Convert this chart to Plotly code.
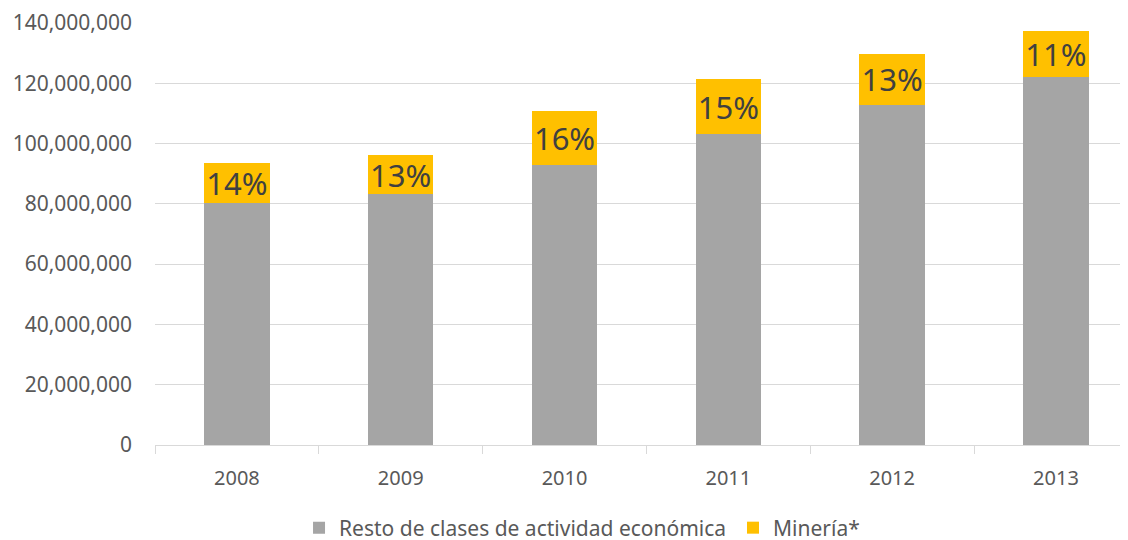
import plotly.graph_objects as go

years = ["2008", "2009", "2010", "2011", "2012", "2013"]
resto = [80.2e6, 83.3e6, 92.8e6, 103.1e6, 112.9e6, 122.1e6]
mineria = [13.5e6, 12.8e6, 18.0e6, 18.2e6, 16.8e6, 15.3e6]
mineria_pct = ["14%", "13%", "16%", "15%", "13%", "11%"]
y_ticks = [0, 20e6, 40e6, 60e6, 80e6, 100e6, 120e6, 140e6]
y_tick_labels = ["0", "20,000,000", "40,000,000", "60,000,000", "80,000,000",
                 "100,000,000", "120,000,000", "140,000,000"]

FONT = "Noto Sans"

fig = go.Figure()
fig.add_trace(go.Bar(
    x=years, y=resto, name="Resto de clases de actividad económica",
    marker=dict(color="#a5a5a5", line=dict(width=0)),
))
fig.add_trace(go.Bar(
    x=years, y=mineria, name="Minería*",
    marker=dict(color="#ffc000", line=dict(width=0)),
    text=mineria_pct, textposition="inside", insidetextanchor="middle",
    textfont=dict(size=31, color="#404040", family=FONT),
    constraintext="none", cliponaxis=False,
))

fig.update_layout(
    barmode="stack",
    bargap=0.6,
    width=1128, height=540,
    margin=dict(l=147, r=8, t=15, b=103, autoexpand=False),
    plot_bgcolor="white", paper_bgcolor="white",
    font=dict(family=FONT, size=20, color="#595959"),
    showlegend=True,
    legend=dict(orientation="h", xref="container", x=0.258, xanchor="left",
                yref="container", y=0.037, yanchor="middle",
                entrywidth=389, entrywidthmode="pixels",
                font=dict(size=21, color="#595959"), traceorder="normal",
                itemsizing="constant", itemwidth=30),
    xaxis=dict(
        type="category", range=[-0.5, 5.44],
        showline=True, linecolor="#d9d9d9", linewidth=1,
        ticks="outside", tickson="boundaries", ticklen=8, tickcolor="#d9d9d9",
        showgrid=False, tickfont=dict(size=20, color="#595959"),
        ticklabelstandoff=15,
    ),
    yaxis=dict(
        range=[0, 140e6], tickvals=y_ticks, ticktext=y_tick_labels,
        showgrid=True, gridcolor="#d9d9d9", gridwidth=1,
        zeroline=False, showline=False, ticks="", ticklabelstandoff=22,
        tickfont=dict(size=21, color="#595959"),
    ),
)

fig.write_html("out.html")
